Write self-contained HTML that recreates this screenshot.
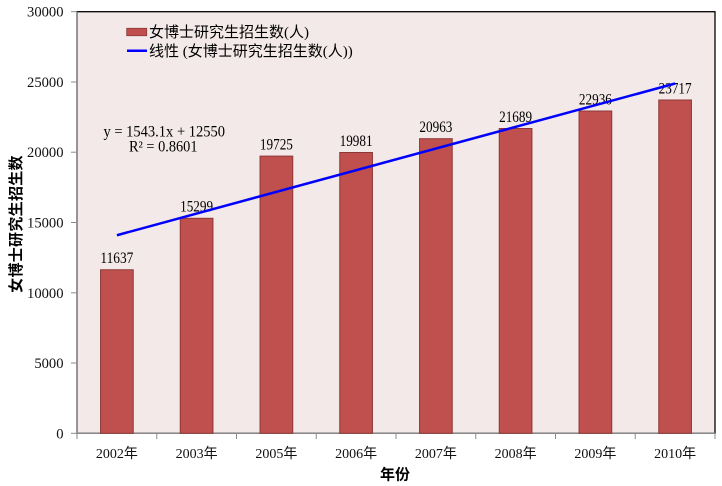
<!DOCTYPE html>
<html>
<head>
<meta charset="utf-8">
<style>
  html,body{margin:0;padding:0;background:#fff;}
  svg{display:block;}
  .tk{font-family:"Liberation Serif","Noto Sans CJK SC",serif;font-size:14px;fill:#111;}
  .yk{font-family:"Liberation Serif",serif;font-size:14.6px;fill:#111;}
  .dl{font-family:"Liberation Serif",serif;font-size:15.5px;fill:#000;}
  .lg{font-family:"Liberation Serif","Noto Sans CJK SC",serif;font-size:15px;fill:#000;}
  .tt{font-family:"Liberation Sans","Noto Sans CJK SC",sans-serif;font-size:15px;font-weight:bold;fill:#000;}
</style>
</head>
<body>
<svg width="722" height="486" viewBox="0 0 722 486" xmlns="http://www.w3.org/2000/svg">
  <rect x="0" y="0" width="722" height="486" fill="#ffffff"/>
  <!-- plot area -->
  <rect x="77" y="11.7" width="638" height="421.6" fill="#f3e9e9" stroke="#000" stroke-width="1.3"/>
  <!-- axes -->
  <line x1="77" y1="11.7" x2="77" y2="433.3" stroke="#8a8a8a" stroke-width="1.3"/>
  <line x1="77" y1="433.3" x2="715" y2="433.3" stroke="#8a8a8a" stroke-width="1.3"/>
  <!-- y ticks -->
  <g stroke="#8a8a8a" stroke-width="1">
    <line x1="71" y1="433.3" x2="77" y2="433.3"/>
    <line x1="71" y1="363.0" x2="77" y2="363.0"/>
    <line x1="71" y1="292.8" x2="77" y2="292.8"/>
    <line x1="71" y1="222.5" x2="77" y2="222.5"/>
    <line x1="71" y1="152.2" x2="77" y2="152.2"/>
    <line x1="71" y1="82.0" x2="77" y2="82.0"/>
    <line x1="71" y1="11.7" x2="77" y2="11.7"/>
  </g>
  <!-- x ticks -->
  <g stroke="#8a8a8a" stroke-width="1">
    <line x1="77" y1="433.3" x2="77" y2="439"/>
    <line x1="156.75" y1="433.3" x2="156.75" y2="439"/>
    <line x1="236.5" y1="433.3" x2="236.5" y2="439"/>
    <line x1="316.25" y1="433.3" x2="316.25" y2="439"/>
    <line x1="396" y1="433.3" x2="396" y2="439"/>
    <line x1="475.75" y1="433.3" x2="475.75" y2="439"/>
    <line x1="555.5" y1="433.3" x2="555.5" y2="439"/>
    <line x1="635.25" y1="433.3" x2="635.25" y2="439"/>
    <line x1="715" y1="433.3" x2="715" y2="439"/>
  </g>
  <!-- y tick labels -->
  <g class="yk" text-anchor="end">
    <text x="63.5" y="438.3">0</text>
    <text x="63.5" y="368.0">5000</text>
    <text x="63.5" y="297.8">10000</text>
    <text x="63.5" y="227.5">15000</text>
    <text x="63.5" y="157.2">20000</text>
    <text x="63.5" y="87.0">25000</text>
    <text x="63.5" y="16.7">30000</text>
  </g>
  <!-- bars -->
  <g fill="#c0504d" stroke="#8c3836" stroke-width="1">
    <rect x="100.55" y="269.76" width="32.7" height="163.54"/>
    <rect x="180.25" y="218.3" width="32.7" height="215.0"/>
    <rect x="260.05" y="156.1" width="32.7" height="277.2"/>
    <rect x="339.75" y="152.5" width="32.7" height="280.8"/>
    <rect x="419.55" y="138.7" width="32.7" height="294.6"/>
    <rect x="499.25" y="128.5" width="32.7" height="304.8"/>
    <rect x="579.05" y="111.0" width="32.7" height="322.3"/>
    <rect x="658.75" y="100.0" width="32.7" height="333.3"/>
  </g>
  <!-- data labels -->
  <g class="dl" text-anchor="middle">
    <text x="116.9" y="263.2" textLength="33" lengthAdjust="spacingAndGlyphs">11637</text>
    <text x="196.6" y="211.7" textLength="33" lengthAdjust="spacingAndGlyphs">15299</text>
    <text x="276.4" y="149.5" textLength="33" lengthAdjust="spacingAndGlyphs">19725</text>
    <text x="356.1" y="145.9" textLength="33" lengthAdjust="spacingAndGlyphs">19981</text>
    <text x="435.9" y="132.1" textLength="33" lengthAdjust="spacingAndGlyphs">20963</text>
    <text x="515.6" y="121.9" textLength="33" lengthAdjust="spacingAndGlyphs">21689</text>
    <text x="595.4" y="104.4" textLength="33" lengthAdjust="spacingAndGlyphs">22936</text>
    <text x="675.1" y="93.4" textLength="33" lengthAdjust="spacingAndGlyphs">23717</text>
  </g>
  <!-- trend line -->
  <line x1="116.9" y1="235.25" x2="675.1" y2="83.5" stroke="#0000ff" stroke-width="2.5"/>
  <!-- equation -->
  <text class="dl" x="103.5" y="136.3" textLength="121.5" lengthAdjust="spacingAndGlyphs">y = 1543.1x + 12550</text>
  <text class="dl" x="129" y="151.3" textLength="68.5" lengthAdjust="spacingAndGlyphs">R² = 0.8601</text>
  <!-- x labels -->
  <g class="tk" text-anchor="middle">
    <text x="116.9" y="458">2002年</text>
    <text x="196.6" y="458">2003年</text>
    <text x="276.4" y="458">2005年</text>
    <text x="356.1" y="458">2006年</text>
    <text x="435.9" y="458">2007年</text>
    <text x="515.6" y="458">2008年</text>
    <text x="595.4" y="458">2009年</text>
    <text x="675.1" y="458">2010年</text>
  </g>
  <!-- legend -->
  <rect x="126.7" y="28.3" width="20" height="7.4" fill="#c0504d" stroke="#8c3836" stroke-width="0.8"/>
  <text class="lg" x="149" y="37">女博士研究生招生数(人)</text>
  <line x1="127" y1="50.7" x2="147" y2="50.7" stroke="#0000ff" stroke-width="2.5"/>
  <text class="lg" x="149" y="56">线性 (女博士研究生招生数(人))</text>
  <!-- axis titles -->
  <text class="tt" x="395" y="479.5" text-anchor="middle">年份</text>
  <text class="tt" transform="translate(21,224) rotate(-90)" text-anchor="middle" letter-spacing="0.3">女博士研究生招生数</text>
</svg>
</body>
</html>
